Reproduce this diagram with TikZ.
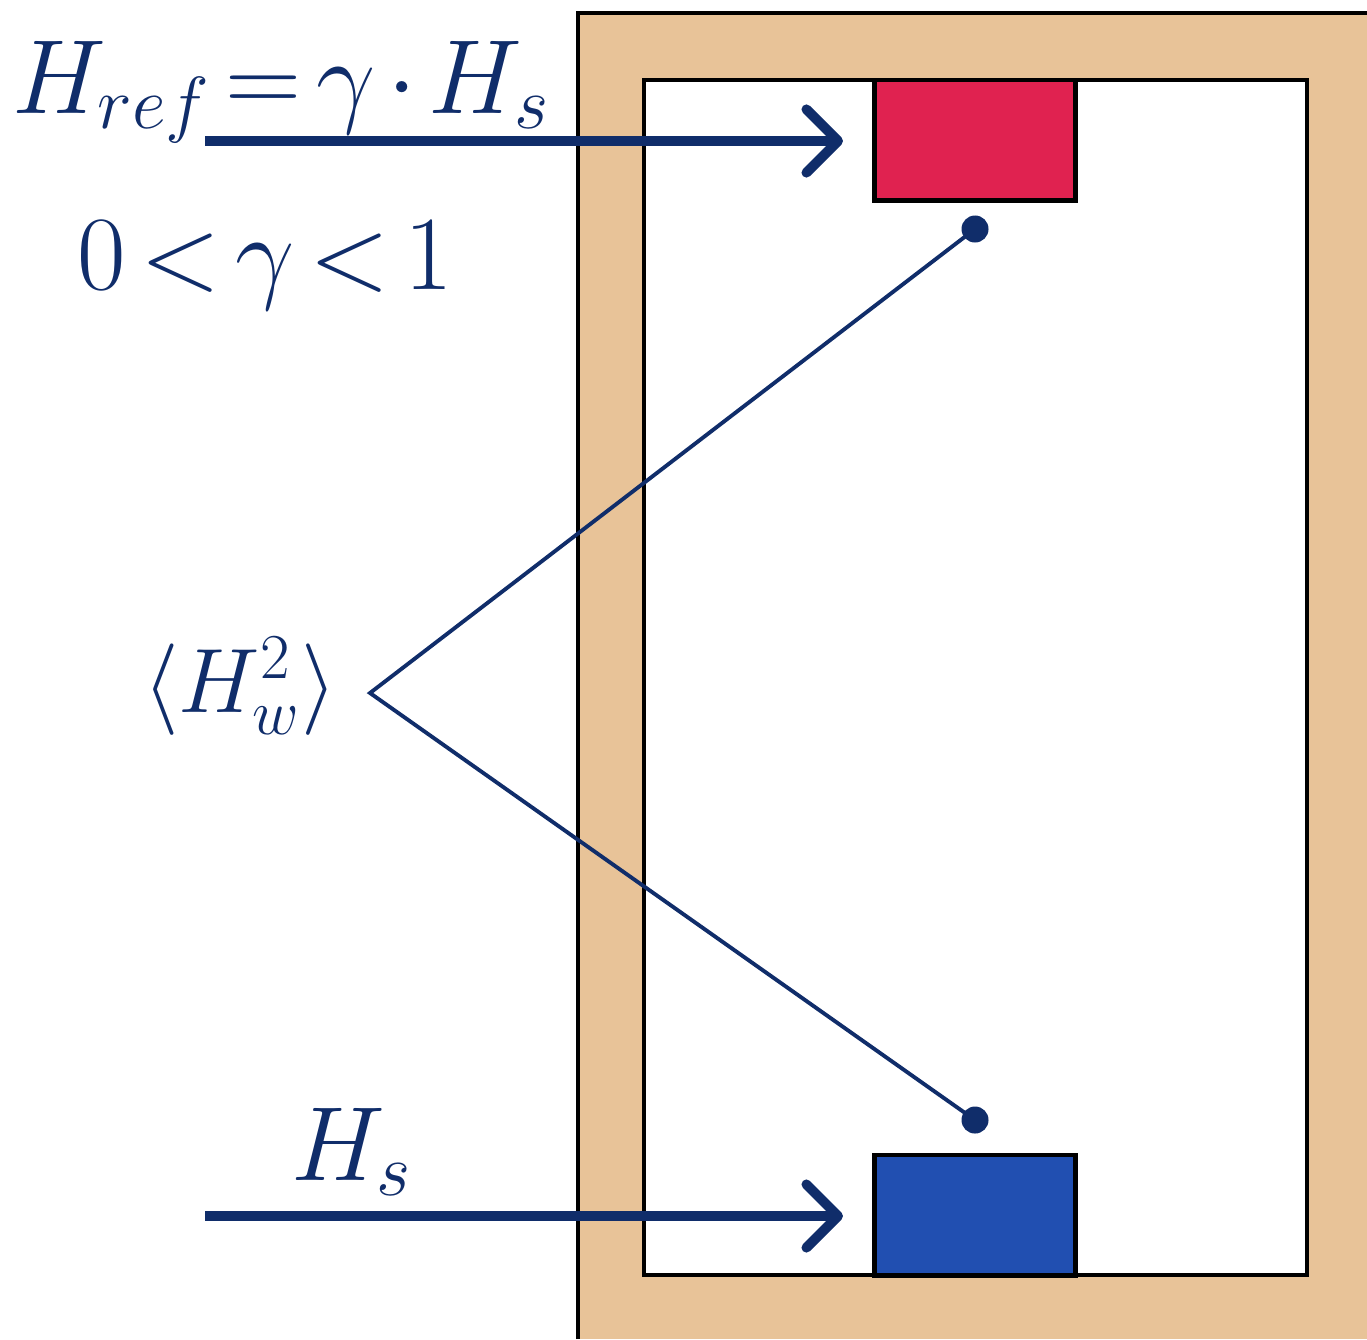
\RequirePackage{fix-cm}
\documentclass[tikz,border=0pt]{standalone}
\usetikzlibrary{arrows.meta}
\definecolor{navy}{RGB}{16,45,106}
\definecolor{wall}{RGB}{232,195,152}
\definecolor{refred}{RGB}{224,34,80}
\definecolor{srcblue}{RGB}{33,79,177}
\newcommand\tightmath{\thickmuskip=2.5mu\relax\medmuskip=2mu\relax}

\begin{document}
\begin{tikzpicture}[x=0.01cm, y=-0.01cm,
  box/.style={draw=black, line width=1.4pt, rectangle, minimum width=2.01cm,
    minimum height=1.2cm, inner sep=0pt},
  dot/.style={circle, fill=navy, minimum size=0.27cm, inner sep=0pt},
  feed/.style={navy, line width=2.8pt, shorten >=0.29cm,
    -{Straight Barb[length=9pt, width=18pt, line cap=round, line join=round]}},
  lbl/.style={navy, anchor=base, font=\fontsize{30}{36}\selectfont\tightmath}]
\useasboundingbox (0,0) rectangle (1367,1339);
% wall round the cavity
\fill[wall] (578,13) rectangle (1367,1339);
\draw[line width=1.4pt] (578,1339) -- (578,13) -- (1367,13);
% cavity
\draw[fill=white, line width=1.4pt] (644,80) rectangle (1307,1275);
% reference (top) and source (bottom)
\node[box, fill=refred] (ref) at (975,140) {};
\node[box, fill=srcblue] (src) at (975,1215) {};
% sampling points
\node[dot] (pTop) at (975,229) {};
\node[dot] (pBot) at (975,1120) {};
\coordinate (apex) at (370,693);
\draw[navy, line width=1.1pt] (pTop.center) -- (apex) -- (pBot.center);
% incoming fields
\coordinate (inTop) at (205,141);
\coordinate (inBot) at (205,1216);
\draw[feed] (inTop) -- (inTop -| ref.west);
\draw[feed] (inBot) -- (inBot -| src.west);
% labels
\node[lbl] (eqRef) at (281,113) {$H_{ref} = \gamma\cdot H_s$};
\node[lbl] (range) at (265,289) {$0<\gamma<1$};
\node[lbl, font=\fontsize{26}{31}\selectfont] (wAvg) at (240,712) {$\langle H_w^2\rangle$};
\node[lbl] (hs) at (352,1180) {$H_s$};
\end{tikzpicture}
\end{document}
